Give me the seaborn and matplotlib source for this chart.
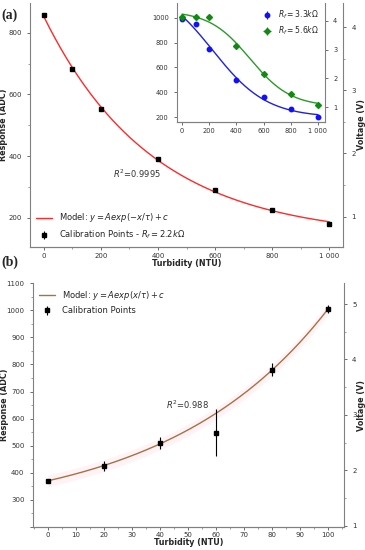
import numpy as np
import pandas as pd
import matplotlib
matplotlib.use("Agg")
import matplotlib.pyplot as plt
import seaborn as sns
from matplotlib.ticker import AutoMinorLocator, FuncFormatter, MultipleLocator

# (a) calibration points, Rf = 2.2 kOhm
turb_a = [0, 100, 200, 400, 600, 800, 1000]
adc_a = [858, 683, 554, 391, 290, 226, 181]
err_a = [4, 5, 4, 4, 4, 4, 4]

# inset, other feedback resistors
turb_in = [0, 100, 200, 400, 600, 800, 1000]
adc_33 = [990, 950, 750, 500, 360, 265, 205]
adc_56 = [1005, 1005, 1005, 770, 550, 390, 300]
err_in = [10, 10, 10, 10, 10, 10, 10]

# (b) low range calibration
turb_b = [0, 20, 40, 60, 80, 100]
adc_b = [370, 426, 511, 548, 781, 1004]
err_b = [5, 18, 22, 86, 24, 15]

ADC_TO_V = 5 / 1023


def fit_exp(x, y, sign, w=None):
    # y = A exp(sign*x/tau) + c ; grid over tau, least squares for A, c
    x = np.asarray(x, float)
    y = np.asarray(y, float)
    w = np.ones_like(x) if w is None else 1 / np.asarray(w, float)
    best = None
    for tau in np.linspace(20, 3000, 6000):
        M = np.column_stack([np.exp(sign * x / tau), np.ones_like(x)])
        coef, *_ = np.linalg.lstsq(M * w[:, None], y * w, rcond=None)
        res = np.sum(((M @ coef - y) * w) ** 2)
        if best is None or res < best[0]:
            best = (res, tau, coef)
    tau, (A, c) = best[1], best[2]
    return lambda t: A * np.exp(sign * t / tau) + c


def fit_logistic(x, y):
    # y = c + A / (1 + exp((x - x0)/k))
    x = np.asarray(x, float)
    y = np.asarray(y, float)
    best = None
    for x0 in np.linspace(0, 1000, 201):
        for k in np.linspace(40, 500, 93):
            M = np.column_stack([1 / (1 + np.exp((x - x0) / k)), np.ones_like(x)])
            coef, *_ = np.linalg.lstsq(M, y, rcond=None)
            res = np.sum((M @ coef - y) ** 2)
            if best is None or res < best[0]:
                best = (res, x0, k, coef)
    _, x0, k, (A, c) = best
    return lambda t: c + A / (1 + np.exp((t - x0) / k))


sns.set_style("ticks")
plt.rcParams['font.family'] = ['DejaVu Sans']
plt.rcParams['mathtext.fontset'] = 'dejavusans'

thousands = FuncFormatter(lambda v, p: f"{v:,.0f}".replace(",", " "))
spine_col = '#808080'


def style(ax, right=False):
    ax.spines['top'].set_visible(False)
    for s in ax.spines.values():
        s.set_color(spine_col)
        s.set_linewidth(0.8)
    if not right:
        ax.spines['right'].set_visible(False)
    ax.tick_params(labelsize=5, length=2.5, width=0.6, color='#555555', labelcolor='#333333')
    ax.tick_params(which='minor', length=1.5, width=0.5, color='#777777')
    ax.tick_params(axis='x', pad=1.5)


fig = plt.figure(figsize=(3.65, 5.5), dpi=100)

# ---------------- panel (a)
ax_a = fig.add_axes([0.082, 0.551, 0.858, 0.444])
xs = np.linspace(0, 1000, 300)
model_a = fit_exp(turb_a, adc_a, -1)
curve_a = pd.DataFrame({'x': xs, 'y': model_a(xs)})
sns.lineplot(data=curve_a, x='x', y='y', ax=ax_a, color='#ff2a2a', lw=1.0,
             label=r'Model: $y = Aexp(-x/\tau) + c$')
ax_a.errorbar(turb_a, adc_a, yerr=err_a, fmt='s', color='black', ms=3.5, elinewidth=0.8,
              label=r'Calibration Points - $R_f = 2.2k\Omega$')
ax_a.set_xlim(-48, 1048)
ax_a.set_ylim(106, 897)
ax_a.xaxis.set_major_locator(MultipleLocator(200))
ax_a.xaxis.set_minor_locator(AutoMinorLocator(2))
ax_a.yaxis.set_major_locator(MultipleLocator(200))
ax_a.yaxis.set_minor_locator(AutoMinorLocator(2))
ax_a.xaxis.set_major_formatter(thousands)
ax_a.set_xlabel('Turbidity (NTU)', fontsize=5.8, fontweight='bold')
ax_a.set_ylabel('Response (ADC)', fontsize=5.8, fontweight='bold')
ax_a.xaxis.set_label_coords(0.5, -0.05)
ax_a.yaxis.set_label_coords(-0.07, 0.5)
ax_a.text(328, 342, r'$R^2$=0.9995', fontsize=6, ha='center', va='center', color='#333333')
style(ax_a)
h, l = ax_a.get_legend_handles_labels()
ax_a.legend(h, l, loc='lower left', frameon=False, fontsize=6, handlelength=2.0,
            borderaxespad=0.3, labelspacing=0.5)

ax_a2 = ax_a.twinx()
ax_a2.set_ylim(106 * ADC_TO_V, 897 * ADC_TO_V)
ax_a2.yaxis.set_major_locator(MultipleLocator(1))
ax_a2.yaxis.set_minor_locator(AutoMinorLocator(2))
ax_a2.set_ylabel('Voltage (V)', fontsize=5.8, fontweight='bold')
ax_a2.yaxis.set_label_coords(1.045, 0.5)
style(ax_a2, right=True)
ax_a2.spines['left'].set_visible(False)

# ---------------- inset
ax_in = fig.add_axes([0.485, 0.778, 0.405, 0.217])
xi = np.linspace(0, 1000, 300)
m33 = fit_logistic(turb_in, adc_33)
m56 = fit_logistic(turb_in, adc_56)
sns.lineplot(x=xi, y=m33(xi), ax=ax_in, color='#2020e0', lw=1.0)
sns.lineplot(x=xi, y=m56(xi), ax=ax_in, color='#2a9a2a', lw=1.0)
ax_in.errorbar(turb_in, adc_33, yerr=err_in, fmt='o', color='#1010ff', ms=3.2, elinewidth=0.8,
               label=r'$R_f = 3.3k\Omega$')
ax_in.errorbar(turb_in, adc_56, yerr=err_in, xerr=15, fmt='D', color='#108a10', ms=3,
               elinewidth=0.8, label=r'$R_f = 5.6k\Omega$')
ax_in.set_xlim(-37, 1051)
ax_in.set_ylim(160, 1120)
ax_in.xaxis.set_major_locator(MultipleLocator(200))
ax_in.yaxis.set_major_locator(MultipleLocator(200))
ax_in.xaxis.set_major_formatter(thousands)
ax_in.set_xlabel('')
style(ax_in)
ax_in.tick_params(labelsize=4.8)
ax_in.legend(loc='upper right', frameon=False, fontsize=5.5, handlelength=1.2,
             borderaxespad=0.4, labelspacing=0.4)
ax_in2 = ax_in.twinx()
ax_in2.set_ylim(0.48, 4.63)
ax_in2.yaxis.set_major_locator(MultipleLocator(1))
style(ax_in2, right=True)
ax_in2.tick_params(labelsize=4.8)
ax_in2.spines['left'].set_visible(False)

# ---------------- panel (b)
ax_b = fig.add_axes([0.090, 0.042, 0.852, 0.443])
xb = np.linspace(0, 100, 300)
model_b = fit_exp(turb_b, adc_b, 1, w=err_b)
yb = model_b(xb)
ax_b.fill_between(xb, yb - 22, yb + 22, color='#ffc0d8', alpha=0.18, lw=0)
sns.lineplot(x=xb, y=yb, ax=ax_b, color='#a8713f', lw=1.0,
             label=r'Model: $y = Aexp(x/\tau) + c$')
ax_b.errorbar(turb_b, adc_b, yerr=err_b, fmt='s', color='black', ms=3.5, elinewidth=0.8,
              label='Calibration Points')
ax_b.set_xlim(-5.3, 105.7)
ax_b.set_ylim(200, 1100)
ax_b.xaxis.set_major_locator(MultipleLocator(10))
ax_b.xaxis.set_minor_locator(AutoMinorLocator(2))
ax_b.yaxis.set_major_locator(MultipleLocator(100))
ax_b.yaxis.set_minor_locator(AutoMinorLocator(2))
ax_b.yaxis.set_major_formatter(FuncFormatter(lambda v, p: '' if v < 300 else f"{v:.0f}"))
ax_b.set_xlabel('Turbidity (NTU)', fontsize=5.8, fontweight='bold')
ax_b.set_ylabel('Response (ADC)', fontsize=5.8, fontweight='bold')
ax_b.xaxis.set_label_coords(0.5, -0.046)
ax_b.yaxis.set_label_coords(-0.078, 0.5)
ax_b.text(50, 652, r'$R^2$=0.988', fontsize=6, ha='center', va='center', color='#333333')
style(ax_b)
ax_b.legend(loc='upper left', frameon=False, fontsize=6, handlelength=2.0,
            borderaxespad=0.3, labelspacing=0.5)

ax_b2 = ax_b.twinx()
ax_b2.set_ylim(200 * ADC_TO_V, 1100 * ADC_TO_V)
ax_b2.yaxis.set_major_locator(MultipleLocator(1))
ax_b2.yaxis.set_minor_locator(AutoMinorLocator(2))
ax_b2.set_ylabel('Voltage (V)', fontsize=5.8, fontweight='bold')
ax_b2.yaxis.set_label_coords(1.042, 0.5)
style(ax_b2, right=True)
ax_b2.spines['left'].set_visible(False)

fig.text(0.005, 0.973, '(a)', fontsize=10, fontweight='bold', family='Liberation Serif', va='center')
fig.text(0.005, 0.524, '(b)', fontsize=10, fontweight='bold', family='Liberation Serif', va='center')

fig.savefig('out.png', dpi=100)
